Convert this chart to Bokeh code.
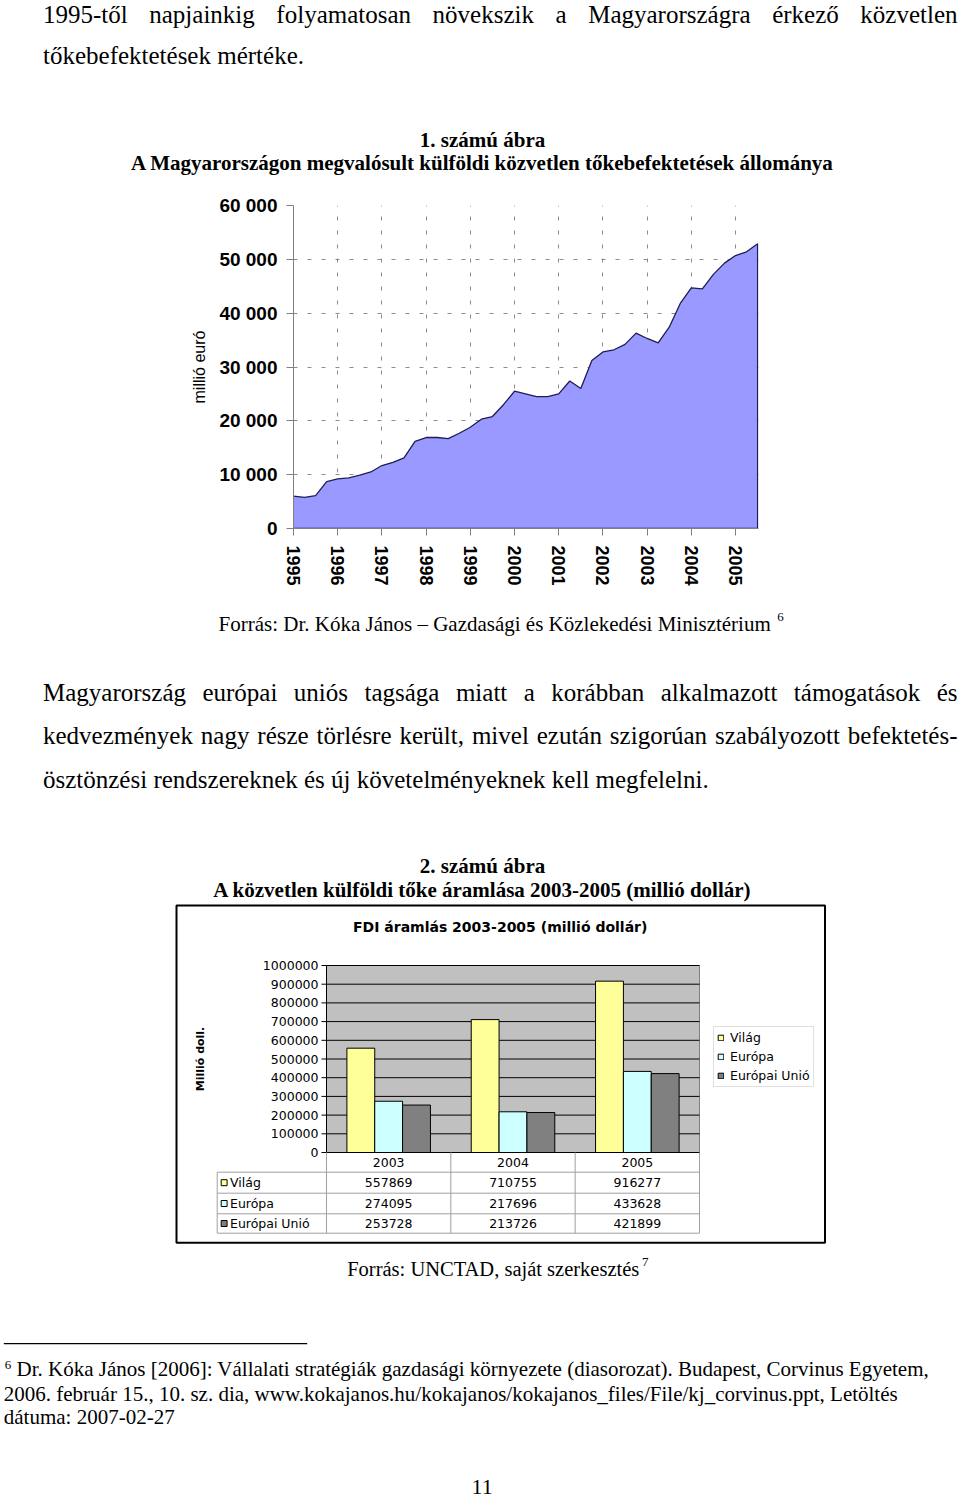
import math
import unicodedata
from bokeh.plotting import figure
from bokeh.models import (Range1d, FixedTicker, ColumnDataSource, Legend, LegendItem)
from bokeh.layouts import column
from bokeh.core.properties import value
from bokeh.embed import file_html
from bokeh.resources import INLINE

# ---------------- data ----------------
# Chart 1: FDI stock in Hungary, million EUR, quarterly 1995 Q1 .. 2005 Q3
years_1 = list(range(1995, 2006))
fdi_stock_quarterly = [6000, 5800, 6100, 8700, 9200, 9400, 9900, 10500, 11700, 12300, 13100,
                       16200, 16900, 16900, 16700, 17700, 18800, 20300, 20800, 23000, 25500,
                       25000, 24500, 24500, 25000, 27400, 26000, 31200, 32800, 33200, 34200,
                       36300, 35300, 34500, 37400, 41800, 44700, 44500, 47200, 49300, 50700,
                       51400, 52900]
y_ticks_1 = [0, 10000, 20000, 30000, 40000, 50000, 60000]
y_tick_labels_1 = ["0", "10 000", "20 000", "30 000", "40 000", "50 000", "60 000"]

# Chart 2: FDI flows 2003-2005, million USD
years_2 = ["2003", "2004", "2005"]
vilag = [557869, 710755, 916277]
europa = [274095, 217696, 433628]
europai_unio = [253728, 213726, 421899]
series_names = ["Világ", "Európa", "Európai Unió"]
series_colors = ["#FFFF99", "#CCFFFF", "#808080"]
y_ticks_2 = [0, 100000, 200000, 300000, 400000, 500000, 600000, 700000, 800000, 900000, 1000000]

# ---------------- helpers ----------------
TNR = {" ": 250, "!": 333, "(": 333, ")": 333, ",": 250, "-": 333, ".": 250, "/": 278, ":": 278,
       ";": 278, "[": 333, "]": 333, "_": 500, "\u2013": 500,
       "A": 722, "B": 667, "C": 667, "D": 722, "E": 611, "F": 556, "G": 722, "H": 722, "I": 333,
       "J": 389, "K": 722, "L": 611, "M": 889, "N": 722, "O": 722, "P": 556, "Q": 722, "R": 667,
       "S": 556, "T": 611, "U": 722, "V": 722, "W": 944, "X": 722, "Y": 722, "Z": 611,
       "a": 444, "b": 500, "c": 444, "d": 500, "e": 444, "f": 333, "g": 500, "h": 500, "i": 278,
       "j": 278, "k": 500, "l": 278, "m": 778, "n": 500, "o": 500, "p": 500, "q": 500, "r": 333,
       "s": 389, "t": 278, "u": 500, "v": 500, "w": 722, "x": 500, "y": 500, "z": 444}


def tw(s, size):
    tot = 0
    for c in s:
        base = unicodedata.normalize("NFD", c)[0]
        tot += TNR.get(c, TNR.get(base, 500))
    return tot * size / 1000.0


SERIF = "Liberation Serif"
SANS = "Liberation Sans"
DJ = "DejaVu Sans"
W = 960
BASE_SHIFT = 0.33  # correction so that the text baseline lands on the requested y


def no_align(p):
    try:
        p.frame_align = False
    except Exception:
        pass


def canvas_fig(height):
    p = figure(width=W, height=height, x_range=Range1d(0, W), y_range=Range1d(height, 0),
               output_backend="svg", toolbar_location=None, title=None,
               min_border=0, min_border_left=0, min_border_right=0, min_border_top=0,
               min_border_bottom=0, x_axis_location=None, y_axis_location=None,
               background_fill_color="white", border_fill_color="white", outline_line_color=None)
    p.grid.visible = False
    no_align(p)
    return p


def txt(p, x, y, s, size, font=SERIF, bold=False, align="left", baseline="alphabetic",
        angle=0.0, xr="default", yr="default"):
    if baseline == "alphabetic" and yr == "default":
        y = y - BASE_SHIFT * size
    p.text(x=[x], y=[y], text=[s], text_font=value(font), text_font_size=value(f"{size}px"),
           text_font_style="bold" if bold else "normal", text_align=align,
           text_baseline=baseline, angle=angle, text_color="black",
           x_range_name=xr, y_range_name=yr)


def justified(p, x0, x1, y, text, size):
    words = text.split(" ")
    widths = [tw(w, size) for w in words]
    gap = (x1 - x0 - sum(widths)) / (len(words) - 1)
    x = x0
    for w, wd in zip(words, widths):
        txt(p, x, y, w, size)
        x += wd + gap


# ---------------- T1: top text (page y 0..190) ----------------
H1 = 190
t1 = canvas_fig(H1)
justified(t1, 42.5, 957, 22.5,
          "1995-től napjainkig folyamatosan növekszik a Magyarországra érkező közvetlen", 25)
txt(t1, 42.5, 63, "tőkebefektetések mértéke.", 25)
txt(t1, 482, 146, "1. számú ábra", 21, bold=True, align="center")
txt(t1, 482, 169,
    "A Magyarországon megvalósult külföldi közvetlen tőkebefektetések állománya", 21,
    bold=True, align="center")

# ---------------- C1: chart 1 (page y 190..600) ----------------
H2 = 410
c1 = figure(width=W, height=H2, x_range=Range1d(1995, 2005.52), y_range=Range1d(0, 60000),
            output_backend="svg", toolbar_location=None, title=None,
            min_border_left=293, min_border_right=202, min_border_top=15, min_border_bottom=72,
            background_fill_color="white", border_fill_color="white", outline_line_color=None)
no_align(c1)

x_q = [years_1[0] + 0.25 * i for i in range(len(fdi_stock_quarterly))]
srcA = ColumnDataSource(dict(x=x_q, y=fdi_stock_quarterly))
c1.varea(x="x", y1=0, y2="y", source=srcA, fill_color="#9999FF", fill_alpha=1)
c1.line(x_q + [x_q[-1], x_q[0]], fdi_stock_quarterly + [0, 0], line_color="#1E1E50",
        line_width=1.3)

xa = c1.xaxis[0]
xa.ticker = FixedTicker(ticks=years_1)
xa.major_label_orientation = "vertical"
xa.major_label_text_font = SANS
xa.major_label_text_font_size = "18px"
xa.major_label_text_font_style = "bold"
xa.major_label_text_color = "black"
xa.axis_line_color = "#808080"
xa.major_tick_line_color = "#808080"
xa.major_tick_out = 7
xa.major_tick_in = 0
xa.minor_tick_line_color = None
xa.major_label_standoff = 10

ya = c1.yaxis[0]
ya.ticker = FixedTicker(ticks=y_ticks_1)
ya.major_label_overrides = {t: l for t, l in zip(y_ticks_1, y_tick_labels_1)}
ya.major_label_text_font = SANS
ya.major_label_text_font_size = "19px"
ya.major_label_text_font_style = "bold"
ya.major_label_text_color = "black"
ya.axis_line_color = "#808080"
ya.major_tick_line_color = "#808080"
ya.major_tick_out = 7
ya.major_tick_in = 0
ya.minor_tick_line_color = None
ya.major_label_standoff = 9
ya.axis_label = "millió euró"
ya.axis_label_text_font = SANS
ya.axis_label_text_font_size = "16px"
ya.axis_label_text_font_style = "normal"
ya.axis_label_text_color = "black"
ya.axis_label_standoff = 8

for g in (c1.xgrid[0], c1.ygrid[0]):
    g.grid_line_color = "#8C8C8C"
    g.grid_line_dash = "4 10"
    g.grid_line_width = 1

# ---------------- C2: rest of page (page y 600..1499) with chart 2 ----------------
TOP3 = 600
H3 = 1499 - TOP3
c2 = canvas_fig(H3)


def L(y_page):
    return y_page - TOP3


# layout of chart 2 plot area (page pixels)
PL, PR, PT, PB = 326, 699, L(965), L(1152)
px_per_cat = (PR - PL) / len(years_2)
px_per_val = (PB - PT) / y_ticks_2[-1]
c2.extra_x_ranges = {"cat": Range1d(-PL / px_per_cat, len(years_2) + (W - PR) / px_per_cat)}
c2.extra_y_ranges = {"val": Range1d(-(H3 - PB) / px_per_val, y_ticks_2[-1] + PT / px_per_val)}

# text between charts
src_txt = "Forrás: Dr. Kóka János \u2013 Gazdasági és Közlekedési Minisztérium"
txt(c2, 218, L(630), src_txt, 21)
txt(c2, 218 + tw(src_txt + " ", 21), L(621), "6", 13)
justified(c2, 42.5, 957, L(700),
          "Magyarország európai uniós tagsága miatt a korábban alkalmazott támogatások és", 25)
justified(c2, 42.5, 957, L(743.5),
          "kedvezmények nagy része törlésre került, mivel ezután szigorúan szabályozott befektetés-", 25)
txt(c2, 42.5, L(787), "ösztönzési rendszereknek és új követelményeknek kell megfelelni.", 25)
txt(c2, 482, L(872), "2. számú ábra", 21, bold=True, align="center")
txt(c2, 482, L(896), "A közvetlen külföldi tőke áramlása 2003-2005 (millió dollár)", 21,
    bold=True, align="center")

# chart 2 outer box
c2.quad(left=[176], right=[824.5], top=[L(905)], bottom=[L(1242.3)], fill_color=None,
        line_color="black", line_width=2)
txt(c2, 499.7, L(931), "FDI áramlás 2003-2005 (millió dollár)", 14, font=DJ, bold=True,
    align="center")

# plot area, grid, axes
n = len(years_2)
c2.quad(left=[0], right=[n], bottom=[0], top=[y_ticks_2[-1]], fill_color="#C0C0C0",
        line_color="#808080", line_width=1, x_range_name="cat", y_range_name="val")
c2.segment(x0=[0] * len(y_ticks_2), x1=[n] * len(y_ticks_2), y0=y_ticks_2, y1=y_ticks_2,
           line_color="black", line_width=1, x_range_name="cat", y_range_name="val")

cat_center = [i + 0.5 for i in range(n)]
srcB = ColumnDataSource(dict(xc=cat_center, vilag=vilag, europa=europa, eu=europai_unio))
bw = 0.224
renderers = []
for k, off, col in zip(["vilag", "europa", "eu"], [-bw, 0, bw], series_colors):
    xs = [c + off for c in cat_center]
    r = c2.vbar(x=xs, top=srcB.data[k], bottom=0, width=bw, fill_color=col,
                line_color="black", line_width=1, x_range_name="cat", y_range_name="val")
    renderers.append(r)

c2.segment(x0=[0], x1=[0], y0=[0], y1=[y_ticks_2[-1]], line_color="black", line_width=1,
           x_range_name="cat", y_range_name="val")
c2.segment(x0=[0], x1=[n], y0=[0], y1=[0], line_color="black", line_width=1,
           x_range_name="cat", y_range_name="val")
c2.segment(x0=[PL - 5] * len(y_ticks_2), x1=[PL] * len(y_ticks_2), y0=y_ticks_2, y1=y_ticks_2,
           line_color="black", line_width=1, y_range_name="val")
c2.text(x=[PL - 8] * len(y_ticks_2), y=y_ticks_2, text=[str(t) for t in y_ticks_2],
        text_font=value(DJ), text_font_size=value("12.5px"), text_align="right",
        text_baseline="middle", text_color="black", y_range_name="val")
txt(c2, 199.5, y_ticks_2[-1] / 2, "Millió doll.", 11, font=DJ, bold=True, align="center",
    baseline="middle", angle=math.pi / 2, yr="val")

# data table
GRID = "#A0A0A0"
row_edges = [L(1152), L(1171.7), L(1192.7), L(1213.3), L(1232.7)]
LABEL_LEFT = 216.7
c2.segment(x0=list(range(n + 1)), x1=list(range(n + 1)), y0=[row_edges[0]] * (n + 1),
           y1=[row_edges[-1]] * (n + 1), line_color=GRID, line_width=1, x_range_name="cat")
c2.segment(x0=[LABEL_LEFT], x1=[LABEL_LEFT], y0=[row_edges[1]], y1=[row_edges[-1]],
           line_color=GRID, line_width=1)
c2.segment(x0=[LABEL_LEFT] * 4, x1=[PR] * 4, y0=row_edges[1:], y1=row_edges[1:],
           line_color=GRID, line_width=1)
c2.text(x=cat_center, y=[(row_edges[0] + row_edges[1]) / 2] * n, text=years_2,
        text_font=value(DJ), text_font_size=value("12.5px"), text_align="center",
        text_baseline="middle", text_color="black", x_range_name="cat")
for ri, vals in enumerate([vilag, europa, europai_unio]):
    yc = (row_edges[ri + 1] + row_edges[ri + 2]) / 2
    c2.quad(left=[220.7], right=[226.6], top=[yc - 3], bottom=[yc + 3],
            fill_color=series_colors[ri], line_color="black", line_width=1)
    txt(c2, 229.5, yc, series_names[ri], 12.5, font=DJ, baseline="middle")
    c2.text(x=cat_center, y=[yc] * n, text=[str(v) for v in vals], text_font=value(DJ),
            text_font_size=value("12.5px"), text_align="center", text_baseline="middle",
            text_color="black", x_range_name="cat")

legend = Legend(items=[LegendItem(label=nm, renderers=[r]) for nm, r in zip(series_names, renderers)],
                location=(713, H3 - L(1087.3)), orientation="vertical",
                glyph_width=7, glyph_height=7, label_text_font=DJ,
                label_text_font_size="12.5px", label_text_color="black", label_standoff=6,
                label_height=15, spacing=4, padding=3, margin=0,
                border_line_color="#BFBFBF", border_line_width=1,
                background_fill_color="white", background_fill_alpha=1)
c2.add_layout(legend)

# source and footnotes
src2 = "Forrás: UNCTAD, saját szerkesztés"
txt(c2, 346.7, L(1275), src2, 20.5)
txt(c2, 346.7 + tw(src2, 20.5) + 1, L(1266), "7", 13)
c2.segment(x0=[3.3], x1=[306.7], y0=[L(1343.2)], y1=[L(1343.2)], line_color="black",
           line_width=1.3)
txt(c2, 4.3, L(1369), "6", 13)
txt(c2, 16, L(1375.7),
    "Dr. Kóka János [2006]: Vállalati stratégiák gazdasági környezete (diasorozat). Budapest, Corvinus Egyetem,", 21)
txt(c2, 3.3, L(1400),
    "2006. február 15., 10. sz. dia, www.kokajanos.hu/kokajanos/kokajanos_files/File/kj_corvinus.ppt, Letöltés", 21)
txt(c2, 3.3, L(1423.3), "dátuma: 2007-02-27", 21)
txt(c2, 481.7, L(1494), "11", 22, align="center")

layout = column(t1, c1, c2, spacing=0)
open("out.html", "w").write(file_html(layout, INLINE))
